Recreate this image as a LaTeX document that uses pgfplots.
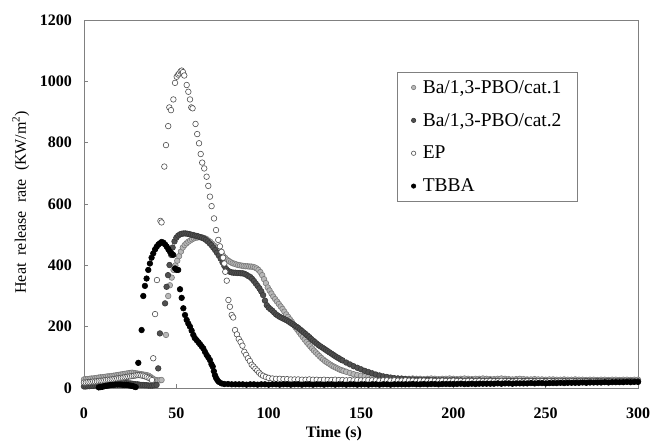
\documentclass[border=0pt]{standalone}
\usepackage{fontspec}
\setmainfont{Liberation Serif}
\usepackage{pgfplots}
\pgfplotsset{compat=1.18}
\definecolor{axgray}{HTML}{808080}
\definecolor{cOneFill}{HTML}{B8B8B8}
\definecolor{cOneEdge}{HTML}{7A7A7A}
\definecolor{cTwoFill}{HTML}{505050}
\definecolor{cTwoEdge}{HTML}{383838}
\definecolor{epEdge}{HTML}{505050}
\begin{document}
\begin{tikzpicture}[x=1pt,y=1pt]
\useasboundingbox (-84,-54) rectangle (568,388);
\begin{axis}[
  at={(0,0)}, anchor=south west,
  scale only axis, width=554pt, height=368pt,
  xmin=0, xmax=300, ymin=0, ymax=1200,
  xtick={0,50,...,300}, ytick={0,200,...,1200},
  axis line style={axgray, line width=0.8pt},
  tick style={axgray, line width=0.6pt},
  major tick length=4pt,
  tick align=inside, tick pos=left,
  /pgf/number format/assume math mode=true,
  /pgf/number format/1000 sep={},
  ticklabel style={font=\bfseries\fontsize{16}{18}\selectfont},
  xticklabel style={inner sep=0pt, anchor=north, yshift=-20pt},
  yticklabel style={inner sep=0pt, anchor=east, xshift=-12pt},
  xlabel={\textbf{Time (s)}},
  xlabel style={font=\fontsize{16}{18}\selectfont, at={(axis description cs:0.451,-0.125)}, anchor=center},
  ylabel={Heat\ \ release\ \ rate\ \ (KW/m\textsuperscript{2})},
  ylabel style={font=\fontsize{16}{18}\selectfont, at={(axis description cs:-0.114,0.505)}, anchor=center},
  legend style={at={(axis description cs:0.565,0.859)}, anchor=north west,
    draw=axgray, line width=0.8pt, font=\fontsize{19.5}{22}\selectfont,
    inner xsep=14pt, inner ysep=6pt, row sep=14.5pt, column sep=5pt},
  legend cell align=left,
  legend image post style={mark size=2.2pt},
]
% Ba/1,3-PBO/cat.1
\addplot[only marks, mark=*, mark size=2.8pt, mark options={fill=cOneFill, draw=cOneEdge, line width=0.6pt}] coordinates {
(0,28)(1,29)(2,29)(3,30)(4,31)(5,31)(6,32)(7,33)(8,34)(9,35)(10,35)(11,36)(12,37)(13,38)(14,38)(15,39)(16,40)(17,41)(18,42)(19,43)(20,44)(21,45)(22,46)(23,47)(24,48)(25,49)(26,50)(27,49)(28,48)(29,47)(30,46)(31,45)(32,44)(33,43)(34,42)(35,40)(36,36)(37,32)(38,28)(39,26)(40,25)(41,25)(42,26)
(44.4,173)(45.6,300)(46.5,335)(47.5,360)(48.5,385)(49.5,400)(50.5,415)(51.5,430)(52.5,445)(53.5,458)(54.5,466)(55.5,472)(56.5,477)(57.5,481)(58.5,485)(59.5,488)(60.5,490)(61.5,491)(62.5,492)(63.5,491)(64.5,490)(65.5,488)(66.5,485)(67.5,480)(68.5,476)(69.5,470)(70.5,464)(71.5,458)(72.5,452)(73.5,446)(74.5,440)(75.5,430)(76.5,424)(77.5,418)(78.5,414)(79.5,410)(80.5,407)(81.5,405)(82.5,403)(83.5,401)(84.5,400)(85.5,399)(86.5,398)(87.5,397)(88.5,397)(89.5,396)(90.5,396)(91.5,395)(92.5,393)(93.5,390)(94.5,385)(95.5,378)(96.5,368)(97.5,355)(98.5,342)(99.5,328)
(100.5,318)(101.5,308)(102.5,298)(103.5,290)(104.5,282)(105.5,274)(106.5,266)(107.5,258)(108.5,249)(109.5,240)(110.5,232)(111.5,224)(112.5,216)(113.5,207)(114.5,198)(115.5,190)(116.5,182)(117.5,174)(118.5,166)(119.5,158)(120.5,150)(121.5,143)(122.5,136)(123.5,129)(124.5,122)(125.5,116)(126.5,110)(127.5,104)(128.5,98)(129.5,93)(130.5,88)(131.5,84)(132.5,80)(133.5,76)(134.5,72)(135.5,69)(136.5,66)(137.5,63)(138.5,60)(139.5,58)(140.5,56)
(142,53)(144,49)(146,45)(148,42)(150,40)(152,38)(154,37)(156,35)(158,34)(160,33)(162,33)(164,32)(166,32)(168,31)(170,31)(172,31)(174,30)(176,30)(178,31)(180,30)(182,30)(184,29)(186,30)(188,31)(190,30)(192,29)(194,30)(196,30)(198,31)(200,30)(202,29)(204,30)(206,31)(208,30)(210,29)(212,30)(214,30)(216,31)(218,30)(220,29)(222,29)(224,30)(226,31)(228,30)(230,29)(232,28)(234,29)(236,30)(238,29)(240,28)(242,28)(244,29)(246,28)(248,28)(250,27)(252,28)(254,28)(256,27)(258,27)(260,28)(262,27)(264,27)(266,28)(268,27)(270,27)(272,26)(274,27)(276,27)(278,26)(280,27)(282,27)(284,26)(286,27)(288,27)(290,26)(292,27)(294,27)(296,26)(298,27)(300,27)
};
\addlegendentry{Ba/1,3-PBO/cat.1}
% Ba/1,3-PBO/cat.2
\addplot[only marks, mark=*, mark size=2.8pt, mark options={fill=cTwoFill, draw=cTwoEdge, line width=0.6pt}] coordinates {
(0,5)(1,5)(2,6)(3,6)(4,7)(5,7)(6,8)(7,8)(8,9)(9,10)(10,10)(11,11)(12,11)(13,12)(14,12)(15,13)(16,13)(17,14)(18,14)(19,15)(20,15)(21,16)(22,16)(23,16)(24,15)(25,15)(26,14)(27,13)(28,12)(29,12)(30,11)(31,10)(32,10)(33,9)(34,9)(35,8)(36,8)(37,8)(38,9)(39.3,10)
(40.2,64)(41.1,178)(43.9,276)(44.7,330)(45.5,368)(46.3,401)(47.2,434)(48,458)(49,478)(50,490)(51,497)(52,501)(53,503)(54,504)(55,504)(56,503)(57,502)(58,500)(59,499)(60,497)(61,496)(62,494)(63,492)(64,490)(65,487)(66,483)(67,478)(68,472)(69,466)(70,458)(71,450)(72,441)(73,432)(74,422)(75,410)(76,398)(77,388)(78,382)(79,379)(80,377)(81,376)(82,376)(83,375)(84,375)(85,374)(86,374)(87,372)(88,369)(89,365)(90,362)(91,356)(92,349)(93,341)(94,333)(95,325)(96,315)(97,303)(98,285)(99,270)
(100,262)(101,257)(102,252)(103,246)(104,240)(105,236)(106,232)(107,229)(108,226)(109,223)(110,220)(111,216)(112,212)(113,208)(114,204)(115,200)(116,196)(117,191)(118,186)(119,181)(120,176)(121,171)(122,166)(123,160)(124,155)(125,150)(126,145)(127,140)(128,136)(129,132)(130,128)(131,124)(132,120)(133,116)(134,112)(135,108)(136,104)(137,100)(138,97)(139,93)(140,90)
(142,83)(144,77)(146,71)(148,66)(150,61)(152,56)(154,52)(156,48)(158,44)(160,41)(162,38)(164,36)(166,34)(168,32)(170,31)(172,30)(174,29)(176,28)(178,28)(180,27)(182,27)(184,26)(186,27)(188,26)(190,26)(192,25)(194,26)(196,25)(198,25)(200,26)(202,25)(204,25)(206,24)(208,25)(210,25)(212,24)(214,25)(216,24)(218,24)(220,25)(222,24)(224,24)(226,23)(228,24)(230,24)(232,23)(234,24)(236,23)(238,23)(240,24)(242,23)(244,23)(246,22)(248,23)(250,23)(252,22)(254,23)(256,22)(258,22)(260,23)(262,22)(264,22)(266,23)(268,22)(270,22)(272,23)(274,22)(276,22)(278,23)(280,22)(282,22)(284,23)(286,22)(288,22)(290,23)(292,22)(294,22)(296,23)(298,22)(300,22)
};
\addlegendentry{Ba/1,3-PBO/cat.2}
% EP
\addplot[only marks, mark=*, mark size=2.8pt, mark options={fill=white, draw=epEdge, line width=0.6pt}] coordinates {
(0,18)(1,18)(2,19)(3,19)(4,20)(5,21)(6,21)(7,22)(8,23)(9,24)(10,24)(11,25)(12,26)(13,27)(14,27)(15,28)(16,29)(17,30)(18,31)(19,32)(20,33)(21,34)(22,35)(23,36)(24,37)(25,38)(26,39)(27,40)(28,41)(29,42)(30,42)(31,41)(32,40)(33,38)(34,36)(35,33)(36,30)(36.8,26)
(37.5,97)(38.5,241)(39.5,352)(41.4,545)(42,540)(43.5,722)(44.4,792)(45.6,854)(46.2,915)(47.1,906)(48.4,941)(49.3,995)(50.2,1015)(51,1022)(51.6,1026)(52.3,1032)(52.9,1035)(53.6,1030)(54.3,1019)(55.6,988)(56.5,966)(57.4,941)(58.1,915)(58.8,912)(60.4,861)(61.3,828)(62.3,798)(63.2,763)(64,735)(65.1,716)(66.4,689)(67.3,659)(68.2,624)(69.1,593)(70.4,553)(71.5,515)(72.7,483)(73.6,462)(74.5,444)(75.3,425)(76,406)(76.5,379)(77.3,350)(78.2,287)(79,265)(80,238)(80.8,230)(81.8,189)(82.8,175)(83.8,160)(84.8,150)(85.8,138)(86.8,118)(87.8,108)(88.8,97)(89.8,88)(90.8,76)(91.8,70)(92.8,63)(93.8,57)(94.8,50)(95.8,44)(97,40)(98.5,36)
(100,33)(102,31)(104,30)(106,30)(108,29)(110,29)(112,28)(114,28)(116,28)(118,27)(120,27)(122,28)(124,27)(126,27)(128,26)(130,27)(132,26)(134,26)(136,27)(138,26)(140,26)(142,25)(144,26)(146,25)(148,26)(150,25)(152,25)(154,26)(156,25)(158,25)(160,24)(162,25)(164,25)(166,24)(168,25)(170,24)(172,24)(174,25)(176,24)(178,24)(180,23)(182,24)(184,24)(186,23)(188,24)(190,23)(192,23)(194,24)(196,23)(198,23)(200,24)(202,23)(204,23)(206,22)(208,23)(210,23)(212,22)(214,23)(216,22)(218,22)(220,23)(222,22)(224,22)(226,23)(228,22)(230,22)(232,21)(234,22)(236,22)(238,21)(240,22)(242,22)(244,21)(246,22)(248,22)(250,21)(252,22)(254,21)(256,21)(258,22)(260,21)(262,21)(264,22)(266,21)(268,21)(270,22)(272,21)(274,21)(276,22)(278,21)(280,21)(282,22)(284,21)(286,22)(288,21)(290,22)(292,21)(294,22)(296,21)(298,22)(300,21)
};
\addlegendentry{EP}
% TBBA
\addplot[only marks, mark=*, mark size=2.8pt, mark options={fill=black, draw=black, line width=0.6pt}] coordinates {
(8,2)(9,3)(10,4)(11,6)(12,7)(13,8)(14,9)(15,10)(16,10)(17,11)(18,11)(19,11)(20,11)(21,10)(22,10)(23,10)(24,9)(25,8)(26,7)(27,5)(28,3)
(29.4,82)(31.2,189)(32.1,300)(33,333)(33.9,357)(34.8,385)(35.7,406)(36.6,425)(37.5,439)(38.5,452)(39.4,461)(40.3,468)(41.1,472)(42,476)(43,474)(43.9,468)(44.8,461)(45.7,452)(46.6,444)(47.5,438)(48.3,434)(49.3,390)(50.2,385)(51,385)(52,322)(52.9,294)(53.8,260)(54.7,238)(55.6,222)(56.5,210)(57.4,200)(58.3,187)(59.2,173)(60,163)(61,156)(62,149)(62.8,143)(63.7,136)(64.6,129)(65.5,118)(66.4,108)(67.3,100)(68.2,91)(69,78)(69.7,70)(70.3,55)(70.9,42)(71.5,33)(72.2,26)(73,20)(74.5,15)
(76,13)(78,13)(80,12)(82,12)(84,12)(86,12)(88,11)(90,12)(92,12)(94,11)(96,12)(98,12)(100,11)(102,12)(104,12)(106,11)(108,12)(110,12)(112,11)(114,12)(116,12)(118,11)(120,12)(122,12)(124,11)(126,12)(128,12)(130,11)(132,12)(134,12)(136,11)(138,12)(140,12)(142,11)(144,12)(146,12)(148,11)(150,12)(152,12)(154,11)(156,12)(158,12)(160,11)(162,12)(164,12)(166,11)(168,12)(170,12)(172,12)(174,12)(176,12)(178,13)(180,12)(182,12)(184,13)(186,12)(188,13)(190,13)(192,12)(194,13)(196,13)(198,13)(200,13)(202,13)(204,14)(206,13)(208,13)(210,14)(212,13)(214,14)(216,14)(218,14)(220,14)(222,14)(224,15)(226,14)(228,15)(230,15)(232,14)(234,15)(236,15)(238,15)(240,15)(242,16)(244,15)(246,16)(248,16)(250,15)(252,16)(254,16)(256,16)(258,17)(260,16)(262,17)(264,17)(266,17)(268,17)(270,18)(272,17)(274,18)(276,18)(278,18)(280,18)(282,19)(284,18)(286,19)(288,19)(290,19)(292,19)(294,20)(296,19)(298,20)(300,20)
};
\addlegendentry{TBBA}
\end{axis}
\end{tikzpicture}
\end{document}
